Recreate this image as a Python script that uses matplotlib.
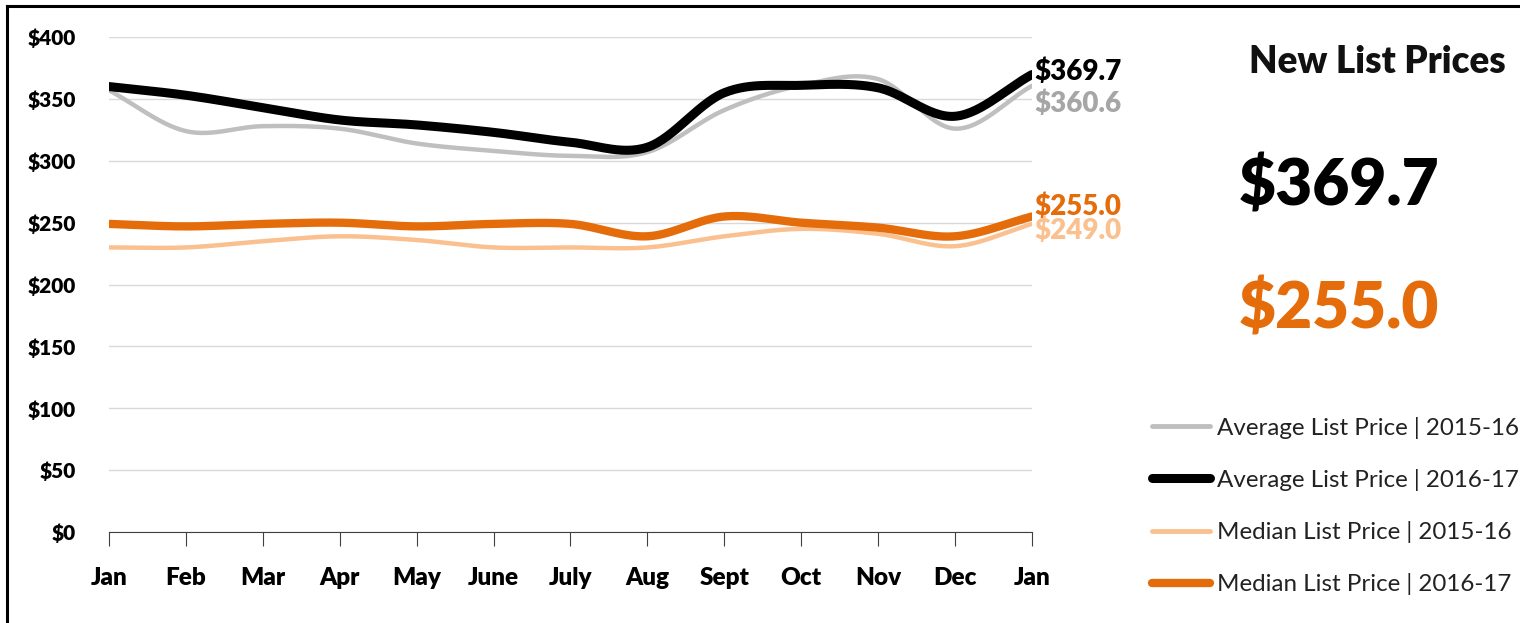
import numpy as np
import matplotlib
matplotlib.use("Agg")
import matplotlib.pyplot as plt
from matplotlib.lines import Line2D

plt.rcParams['font.family'] = ['Lato', 'DejaVu Sans']

# ---- data ----
months = ["Jan", "Feb", "Mar", "Apr", "May", "June", "July", "Aug",
          "Sept", "Oct", "Nov", "Dec", "Jan"]
avg_1516 = [357, 324, 328, 326, 314, 308, 304, 307, 341, 361, 366, 326, 360.6]
avg_1617 = [360, 353, 343, 333, 329, 323, 315, 311, 355, 361, 359, 336, 369.7]
med_1516 = [230, 230, 235, 239, 236, 230, 230, 230, 239, 245, 241, 231, 249.0]
med_1617 = [249, 247, 249, 250, 247, 249, 249, 239, 255, 250, 246, 239, 255.0]
yticks = [0, 50, 100, 150, 200, 250, 300, 350, 400]

GRAY = "#BFBFBF"
BLACK = "#000000"
PEACH = "#FAC090"
ORANGE = "#E46C0A"


def smooth(y, n=30):
    # Catmull-Rom style curve through the points (like Excel smoothed lines)
    y = np.asarray(y, dtype=float)
    p = np.concatenate([[2 * y[0] - y[1]], y, [2 * y[-1] - y[-2]]])
    xs, ys = [], []
    for i in range(len(y) - 1):
        p0, p1, p2, p3 = p[i], p[i + 1], p[i + 2], p[i + 3]
        t = np.linspace(0, 1, n, endpoint=False)
        seg = 0.5 * ((2 * p1) + (-p0 + p2) * t +
                     (2 * p0 - 5 * p1 + 4 * p2 - p3) * t ** 2 +
                     (-p0 + 3 * p1 - 3 * p2 + p3) * t ** 3)
        xs.append(i + t)
        ys.append(seg)
    xs.append([len(y) - 1])
    ys.append([y[-1]])
    return np.concatenate(xs), np.concatenate(ys)


fig = plt.figure(figsize=(15.2, 6.23), dpi=100)
ax = fig.add_axes([0.0717, 0.146, 0.6072, 0.7945])

series = [
    (avg_1516, GRAY, 3.2, "Average List Price | 2015-16"),
    (avg_1617, BLACK, 6.5, "Average List Price | 2016-17"),
    (med_1516, PEACH, 3.2, "Median List Price | 2015-16"),
    (med_1617, ORANGE, 6.0, "Median List Price | 2016-17"),
]
for vals, col, lw, lab in series:
    sx, sy = smooth(vals)
    ax.plot(sx, sy, color=col, lw=lw, solid_capstyle='round', label=lab, zorder=3)

ax.set_xlim(0, len(months) - 1)
ax.set_ylim(0, 400)
ax.set_yticks(yticks)
ax.set_yticklabels(["$" + str(v) for v in yticks], fontsize=15, fontweight='heavy')
ax.set_xticks(range(len(months)))
ax.set_xticklabels(months, fontsize=17.5, fontweight='heavy')
ax.grid(axis='y', color="#D9D9D9", lw=1)
ax.set_axisbelow(True)
for s in ["left", "right", "top"]:
    ax.spines[s].set_visible(False)
ax.spines["bottom"].set_color("#404040")
ax.tick_params(axis='y', length=0, pad=24)
ax.tick_params(axis='x', length=10, color="#404040", direction='out', pad=15)

# end labels
end_labels = [
    (avg_1617[-1], BLACK, 2),
    (avg_1516[-1], "#A6A6A6", -13),
    (med_1617[-1], ORANGE, 7),
    (med_1516[-1], PEACH, -5),
]
for v, col, off in end_labels:
    ax.annotate("$%.1f" % v, xy=(len(months) - 1, v), xytext=(2, off),
                textcoords='offset points', fontsize=20, fontweight='heavy',
                color=col, va='center', ha='left', annotation_clip=False)

# right panel
fig.text(0.906, 0.90, "New List Prices", fontsize=26.5, fontweight='heavy',
         ha='center', va='center', color="#111111")
fig.text(0.815, 0.70, "$%.1f" % avg_1617[-1], fontsize=46, fontweight='heavy',
         ha='left', va='center', color=BLACK)
fig.text(0.815, 0.503, "$%.1f" % med_1617[-1], fontsize=46, fontweight='heavy',
         ha='left', va='center', color=ORANGE)

handles = [Line2D([0], [0], color=c, lw=lw if lw > 4 else 3.5,
                  solid_capstyle='round') for _, c, lw, _ in series]
labels = [lab for *_, lab in series]
fig.legend(handles, labels, loc='upper left', bbox_to_anchor=(0.7435, 0.366),
           frameon=False, fontsize=17.4, handlelength=2.4, handletextpad=0.28,
           labelspacing=1.25, labelcolor="#222222")

# border (top and left only)
fig.add_artist(Line2D([0.0046, 1.0], [0.991, 0.991], color='black', lw=2.2,
                      transform=fig.transFigure))
fig.add_artist(Line2D([0.0046, 0.0046], [0.0, 0.991], color='black', lw=2.2,
                      transform=fig.transFigure))

fig.savefig("out.png", dpi=100, facecolor='white')
